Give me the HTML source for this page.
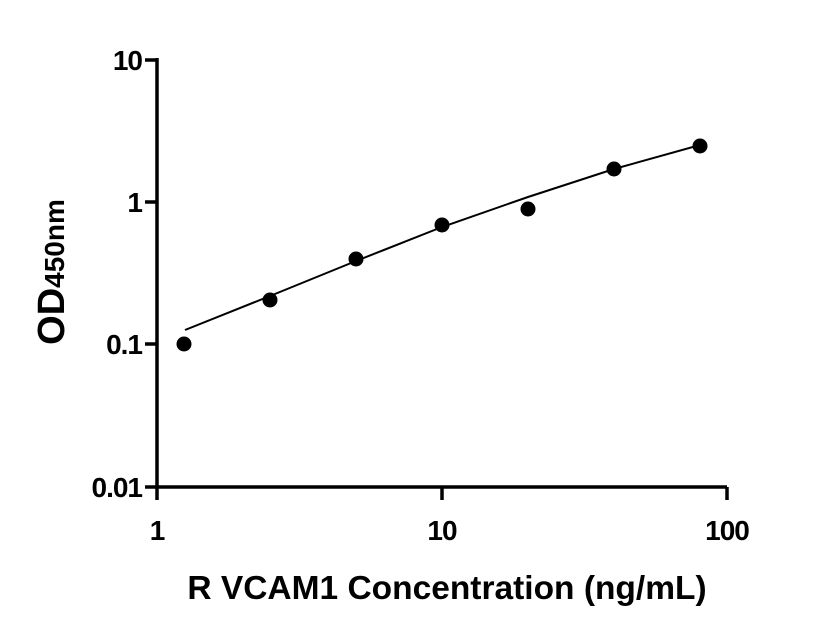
<!DOCTYPE html>
<html><head><style>
body{margin:0;background:#fff;}
svg{display:block;font-family:"Liberation Sans",Arial,sans-serif;font-weight:bold;}
</style></head><body>
<svg width="816" height="640" viewBox="0 0 816 640">
<g stroke="#000" stroke-width="3.5" fill="none">
<path d="M157 58 V487 H727"/>
<path d="M145 60 H157 M145 202 H157 M145 344 H157 M145 487 H157"/>
<path d="M157 487 V500 M442 487 V500 M727 487 V500"/>
</g>
<g font-size="28" text-anchor="end" letter-spacing="-1">
<text x="142" y="70">10</text>
<text x="142" y="212">1</text>
<text x="142" y="354">0.1</text>
<text x="142" y="497">0.01</text>
</g>
<g font-size="28" text-anchor="middle" letter-spacing="-1">
<text x="157" y="540">1</text>
<text x="442" y="540">10</text>
<text x="727" y="540">100</text>
</g>
<text x="447" y="599" font-size="33.5" text-anchor="middle">R VCAM1 Concentration (ng/mL)</text>
<text transform="translate(64,272) rotate(-90)" font-size="38" text-anchor="middle">OD<tspan font-size="28">450nm</tspan></text>
<path d="M185 330 L270 296 L356 261 L442 227 L528 197 L614 169 L700 145" stroke="#000" stroke-width="2" fill="none"/>
<g fill="#000">
<circle cx="184" cy="344" r="7.5"/><circle cx="270" cy="300" r="7.5"/><circle cx="356" cy="259" r="7.5"/>
<circle cx="442" cy="225" r="7.5"/><circle cx="528" cy="209" r="7.5"/><circle cx="614" cy="169" r="7.5"/>
<circle cx="700" cy="146" r="7.5"/>
</g>
</svg>
</body></html>
